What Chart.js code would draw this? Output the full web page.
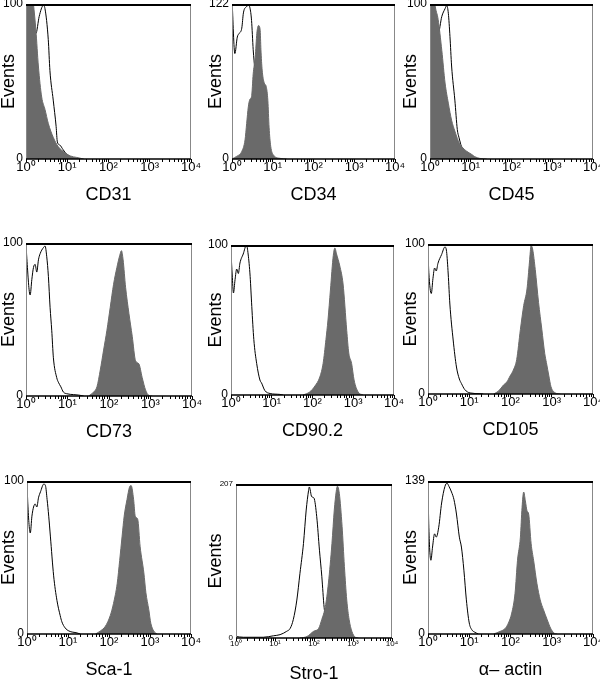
<!DOCTYPE html>
<html>
<head>
<meta charset="utf-8">
<title>Flow cytometry panels</title>
<script src="https://cdn.jsdelivr.net/npm/chart.js@4.4.1/dist/chart.umd.min.js"></script>
<style>
  body { margin: 0; background: #fff; }
  #wrap { position: relative; width: 600px; height: 680px; overflow: hidden; }
  #wrap canvas { position: absolute; left: 0; top: 0; }
</style>
</head>
<body>
<div id="wrap"></div>
<script>
// ---- data: x in log10 units (10^0 .. 10^4), y in events ----
const markers = ['CD31', 'CD34', 'CD45', 'CD73', 'CD90.2', 'CD105', 'Sca-1', 'Stro-1', 'α– actin'];
const yTops = [100, 122, 100, 100, 100, 100, 100, 207, 139];
const xTickLabels = ['10⁰', '10¹', '10²', '10³', '10⁴'];

// filled = stained sample, ctrl = isotype control (open line)
const cd31Fill = [[0,135],[0.18,100],[0.24,83],[0.3,60],[0.38,40],[0.46,32],[0.54,23],[0.66,14],[0.78,8],[0.95,4],[1.07,2],[1.23,1],[1.4,0]];
const cd31Ctrl = [[0,92],[0.24,81],[0.32,92],[0.42,99],[0.46,97],[0.54,77],[0.58,57],[0.66,38],[0.73,21],[0.76,11],[0.82,9],[0.9,6],[0.99,3],[1.1,1],[1.3,0]];

const cd34Fill = [[0,0],[0.11,2],[0.24,6],[0.32,15],[0.36,28],[0.4,41],[0.44,47],[0.48,49],[0.52,67],[0.57,80],[0.61,99],[0.65,105],[0.69,102],[0.71,86],[0.74,70],[0.79,60],[0.84,57],[0.88,46],[0.91,25],[0.95,10],[1.02,3],[1.18,0.5],[1.34,0]];
const cd34Ctrl = [[0,126],[0.07,83],[0.13,96],[0.18,99],[0.24,103],[0.28,115],[0.36,120],[0.4,121],[0.44,119],[0.48,109],[0.52,86],[0.56,70],[0.6,50],[0.7,25],[0.8,8],[1.0,1],[1.2,0]];

const cd45Fill = [[0,135],[0.12,100],[0.2,90],[0.29,70],[0.37,49],[0.45,36],[0.53,25],[0.61,18],[0.69,12],[0.78,8],[0.9,5],[1.02,3],[1.1,1.5],[1.22,0.4],[1.39,0]];
const cd45Ctrl = [[0,90],[0.2,81],[0.29,92],[0.37,97],[0.41,99],[0.45,94],[0.49,79],[0.53,60],[0.61,38],[0.67,19],[0.71,14],[0.8,6],[0.95,2],[1.1,0]];

const cd73Fill = [[1.51,0],[1.63,2.6],[1.71,6],[1.79,17],[1.87,30],[1.95,43],[2.03,58],[2.11,73],[2.19,84],[2.26,92],[2.3,95],[2.34,89],[2.4,71],[2.48,54],[2.56,39],[2.64,23],[2.72,21],[2.8,12],[2.88,4],[2.96,0.4],[3.04,0]];
const cd73Ctrl = [[0,100],[0.02,90],[0.1,66],[0.14,76],[0.18,84],[0.22,86],[0.26,81],[0.3,89],[0.34,93],[0.42,97],[0.46,98],[0.5,91],[0.54,78],[0.58,58],[0.62,43],[0.66,25],[0.74,12],[0.78,9],[0.84,6],[0.9,2.6],[0.98,1.5],[1.15,0.9],[1.27,0.6],[1.39,0]];

const cd90Fill = [[1.77,0],[1.93,2],[2.06,6],[2.18,12],[2.26,21],[2.33,37],[2.38,50],[2.44,70],[2.51,93],[2.55,98],[2.59,94],[2.67,86],[2.75,74],[2.84,43],[2.89,28],[2.96,21],[3.02,10],[3.12,2],[3.24,0]];
const cd90Ctrl = [[0,95],[0.03,80],[0.06,68],[0.1,77],[0.14,84],[0.18,81],[0.22,88],[0.3,94],[0.38,100],[0.42,94],[0.47,79],[0.51,59],[0.56,37],[0.63,21],[0.71,10],[0.75,8],[0.83,3],[0.96,1],[1.2,0.4],[1.28,0]];

const cd105Fill = [[1.59,0],[1.71,2],[1.83,6],[1.91,8],[1.99,12],[2.07,16],[2.15,23],[2.24,43],[2.32,59],[2.4,70],[2.46,88],[2.5,99],[2.54,96],[2.6,83],[2.68,61],[2.76,43],[2.83,27],[2.87,21],[2.93,12],[2.98,5],[3.09,0.7],[3.21,0]];
const cd105Ctrl = [[0,95],[0.02,81],[0.08,67],[0.12,77],[0.16,84],[0.2,82],[0.24,87],[0.33,93],[0.41,98],[0.45,95],[0.49,80],[0.53,60],[0.61,36],[0.69,18],[0.76,10],[0.81,7],[0.89,3],[1.02,0.7],[1.26,0.2],[1.34,0]];

const sca1Fill = [[1.67,0],[1.79,2],[1.91,5],[2.03,12],[2.11,20],[2.2,33],[2.26,48],[2.32,64],[2.37,77],[2.44,88],[2.5,96],[2.54,97],[2.6,88],[2.64,77],[2.7,75],[2.76,57],[2.85,40],[2.9,27],[2.97,16],[3.02,7],[3.09,2],[3.17,0]];
const sca1Ctrl = [[0,100],[0.02,85],[0.08,66],[0.12,77],[0.16,83],[0.2,85],[0.24,83],[0.28,89],[0.33,93],[0.41,98],[0.45,97],[0.49,88],[0.53,77],[0.57,64],[0.65,38],[0.73,22],[0.81,12],[0.85,8],[0.93,4],[1.02,2],[1.22,0.7],[1.3,0]];

const stro1Fill = [[1.64,0],[1.82,2],[1.99,9],[2.12,13],[2.2,25],[2.29,42],[2.37,74],[2.46,127],[2.52,172],[2.57,197],[2.6,204],[2.65,194],[2.72,150],[2.78,96],[2.84,51],[2.9,25],[2.97,9],[3.06,1],[3.14,0]];
const stro1Ctrl = [[0,2],[0.19,1],[0.7,1],[0.96,3],[1.13,4.5],[1.3,9],[1.39,13],[1.47,25],[1.56,51],[1.64,87],[1.73,127],[1.8,172],[1.86,198],[1.88,203],[1.94,190],[2.0,188],[2.07,163],[2.14,118],[2.2,83],[2.26,41],[2.32,22],[2.4,8],[2.55,0]];

const actinFill = [[1.59,0],[1.75,2.4],[1.87,5],[1.95,10],[2.03,19],[2.11,37],[2.17,67],[2.24,88],[2.28,115],[2.32,129],[2.36,121],[2.4,112],[2.44,109],[2.5,82],[2.56,67],[2.64,46],[2.72,31],[2.8,22],[2.89,13],[2.97,5.4],[3.05,1],[3.13,0]];
const actinCtrl = [[0,134],[0.02,97],[0.07,67],[0.11,79],[0.16,91],[0.2,88],[0.26,97],[0.33,119],[0.41,134],[0.46,137],[0.51,134],[0.57,129],[0.63,122],[0.69,109],[0.76,88],[0.81,79],[0.87,58],[0.93,31],[1.0,10],[1.06,4],[1.14,1.5],[1.22,0]];

const fills = [cd31Fill, cd34Fill, cd45Fill, cd73Fill, cd90Fill, cd105Fill, sca1Fill, stro1Fill, actinFill];
const ctrls = [cd31Ctrl, cd34Ctrl, cd45Ctrl, cd73Ctrl, cd90Ctrl, cd105Ctrl, sca1Ctrl, stro1Ctrl, actinCtrl];

// ---- layout (page pixels) ----
const PAGE_W = 600, PAGE_H = 680;
const colX = [0, 200, 400];
// plot area: left, top, right, bottom
const plotBoxes = [
  [26, 4, 191, 159], [232, 4, 395, 159], [430, 4, 593, 159],
  [26, 243, 192, 396], [231, 245, 394, 395], [428, 244, 593, 394],
  [27, 481, 191, 634], [236, 484, 392, 638], [428, 481, 593, 634]
];
const eventsX = [9, 16, 11];   // centre of the "Events" label from the column's left edge
const X_AXIS_H = 42;
const GREY = '#6a6a6a';

Chart.defaults.font.family = '"Liberation Sans", Arial, sans-serif';
Chart.defaults.color = '#000';

// major + minor decade ticks
const decadeTicks = [];
for (let d = 0; d < 4; d++) {
  for (let k = 1; k < 10; k++) decadeTicks.push(d + Math.log10(k));
}
decadeTicks.push(4);

// box round the plot: heavy top line, black axis, light sides
const framePlugin = {
  id: 'frame',
  afterDatasetsDraw(chart) {
    const { ctx, chartArea: a } = chart;
    ctx.save();
    ctx.strokeStyle = '#888';
    ctx.lineWidth = 1;
    ctx.beginPath();
    ctx.moveTo(a.left + 0.5, a.top);
    ctx.lineTo(a.left + 0.5, a.bottom);
    ctx.moveTo(a.right - 0.5, a.top);
    ctx.lineTo(a.right - 0.5, a.bottom);
    ctx.stroke();
    ctx.strokeStyle = '#000';
    ctx.lineWidth = 2;
    ctx.beginPath();
    ctx.moveTo(a.left, a.top + 1);
    ctx.lineTo(a.right, a.top + 1);
    ctx.stroke();
    ctx.lineWidth = 1.5;
    ctx.beginPath();
    ctx.moveTo(a.left, a.bottom);
    ctx.lineTo(a.right, a.bottom);
    ctx.stroke();
    ctx.restore();
  }
};

const toPoints = arr => arr.map(([x, y]) => ({ x, y }));

function buildPanel(i) {
  const col = i % 3;
  const [pl, pt, pr, pb] = plotBoxes[i];
  const cx = colX[col];
  const small = i === 7;   // Stro-1 panel uses tiny tick text
  const yTop = yTops[i];

  // every panel gets a full-page transparent canvas, so nothing is cut at panel edges
  const canvas = document.createElement('canvas');
  canvas.width = PAGE_W;
  canvas.height = PAGE_H;
  document.getElementById('wrap').appendChild(canvas);

  new Chart(canvas, {
    type: 'line',
    data: {
      datasets: [{
        data: toPoints(fills[i]),
        fill: 'origin',
        backgroundColor: GREY,
        borderColor: GREY,
        borderWidth: 1,
        pointRadius: 0,
        cubicInterpolationMode: 'monotone'
      }, {
        data: toPoints(ctrls[i]),
        fill: false,
        borderColor: '#000',
        borderWidth: 1,
        pointRadius: 0,
        cubicInterpolationMode: 'monotone'
      }]
    },
    options: {
      responsive: false,
      animation: false,
      events: [],
      layout: {
        padding: { left: cx, top: pt, right: PAGE_W - pr, bottom: PAGE_H - pb - X_AXIS_H }
      },
      plugins: { legend: { display: false }, tooltip: { enabled: false } },
      scales: {
        x: {
          type: 'linear',
          min: 0,
          max: 4,
          afterBuildTicks: s => { s.ticks = decadeTicks.map(v => ({ value: v })); },
          afterFit: s => { s.height = X_AXIS_H; s.paddingLeft = 0; s.paddingRight = 0; },
          ticks: {
            autoSkip: false,
            maxRotation: 0,
            padding: small ? -1 : -1.5,
            font: { size: small ? 8 : 13, lineHeight: 1 },
            callback: v => Number.isInteger(v) ? xTickLabels[v] : ''
          },
          grid: { drawOnChartArea: false, tickLength: 3, color: '#000' },
          border: { display: false },
          title: {
            display: true,
            text: markers[i],
            font: { size: 18, lineHeight: 1 },
            padding: { top: 0, bottom: X_AXIS_H - 36 - 9 }
          }
        },
        y: {
          min: 0,
          max: yTop,
          afterBuildTicks: s => { s.ticks = [{ value: 0 }, { value: yTop }]; },
          afterFit: s => { s.width = pl - cx; s.paddingTop = 0; s.paddingBottom = 0; },
          ticks: { padding: 3, font: { size: small ? 8 : 12 } },
          grid: { display: false, drawTicks: false },
          border: { display: false },
          title: {
            display: true,
            text: 'Events',
            font: { size: 18, lineHeight: 1 },
            padding: { top: eventsX[col] - 9, bottom: 0 }
          }
        }
      }
    },
    plugins: [framePlugin]
  });
}

markers.forEach((_, i) => buildPanel(i));
</script>
</body>
</html>
